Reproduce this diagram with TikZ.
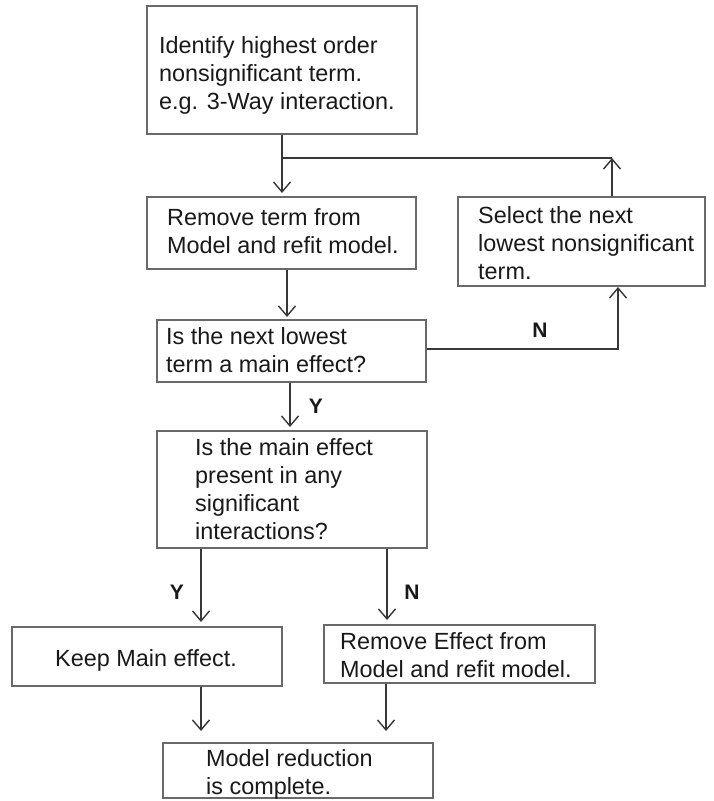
\documentclass[tikz,border=0pt]{standalone}
\usepackage{fontspec}
\setmainfont{Liberation Sans}
\usetikzlibrary{arrows.meta}
\definecolor{boxline}{RGB}{105,105,105}
\definecolor{connline}{RGB}{55,55,55}
\definecolor{txt}{RGB}{25,25,25}
\begin{document}
\begin{tikzpicture}[x=1pt,y=-1pt,
  box/.style={draw=boxline, line width=1.3pt, inner sep=0pt, rectangle},
  txtnode/.style={anchor=north west, inner sep=0pt, align=left, text=txt,
    font=\fontsize{23.4}{28}\selectfont},
  lbl/.style={inner sep=0pt, text=txt, font=\fontsize{21}{24}\selectfont\bfseries},
  conn/.style={draw=connline, line width=1.4pt},
  arr/.style={conn, -{Straight Barb[length=10pt,width=17pt,line width=1.4pt]}}]
\useasboundingbox (0,0) rectangle (713,801);
\fill[white] (0,0) rectangle (713,801);

% boxes
\node[box, minimum width=270pt, minimum height=128pt] (b1) at (282,70) {};
\node[box, minimum width=269pt, minimum height=72pt]  (b2) at (281.5,233) {};
\node[box, minimum width=247pt, minimum height=89pt]  (b3) at (581.5,241.5) {};
\node[box, minimum width=269pt, minimum height=62pt]  (b4) at (291.5,351) {};
\node[box, minimum width=270pt, minimum height=117pt] (b5) at (292,489.5) {};
\node[box, minimum width=270pt, minimum height=59pt]  (b6) at (147,656.5) {};
\node[box, minimum width=271pt, minimum height=58pt]  (b7) at (459.5,654) {};
\node[box, minimum width=270pt, minimum height=55pt]  (b8) at (298,770.5) {};

% texts
\node[txtnode] (t1) at (159,36) {Identify highest order\\nonsignificant term.\\e.g. 3-Way interaction.};
\node[txtnode] (t2) at (167,208) {Remove term from\\Model and refit model.};
\node[txtnode] (t3) at (478,206) {Select the next\\lowest nonsignificant\\term.};
\node[txtnode] (t4) at (166,327) {Is the next lowest\\term a main effect?};
\node[txtnode] (t5) at (195,438) {Is the main effect\\present in any\\significant\\interactions?};
\node[txtnode] (t6) at (55,649) {Keep Main effect.};
\node[txtnode] (t7) at (340,632) {Remove Effect from\\Model and refit model.};
\node[txtnode] (t8) at (206,749) {Model reduction\\is complete.};

% connector points
\coordinate (t12) at (282,193);
\coordinate (j1) at (282,158);
\coordinate (c3) at (612,158);
\coordinate (t24) at (287,317);
\coordinate (c4) at (618,349);
\coordinate (t43) at (618,287);
\coordinate (t45) at (290,427);
\coordinate (t56) at (201,622);
\coordinate (t57) at (387,620);
\coordinate (t68) at (201,731);
\coordinate (t78) at (386,731);

% connectors
\draw[arr] (b1.south) -- (t12);
\draw[arr] (c3 |- b3.north) -- (c3);
\draw[conn] (c3) -- (j1);
\draw[arr] (t24 |- b2.south) -- (t24);
\draw[arr] (b4.east |- c4) -- (c4) -- (t43);
\draw[arr] (t45 |- b4.south) -- (t45);
\draw[arr] (t56 |- b5.south) -- (t56);
\draw[arr] (t57 |- b5.south) -- (t57);
\draw[arr] (t68 |- b6.south) -- (t68);
\draw[arr] (t78 |- b7.south) -- (t78);

% labels
\node[lbl] (lN1) at (540,330) {N};
\node[lbl] (lY1) at (316,406) {Y};
\node[lbl] (lY2) at (177,592) {Y};
\node[lbl] (lN2) at (412,592) {N};
\end{tikzpicture}
\end{document}
